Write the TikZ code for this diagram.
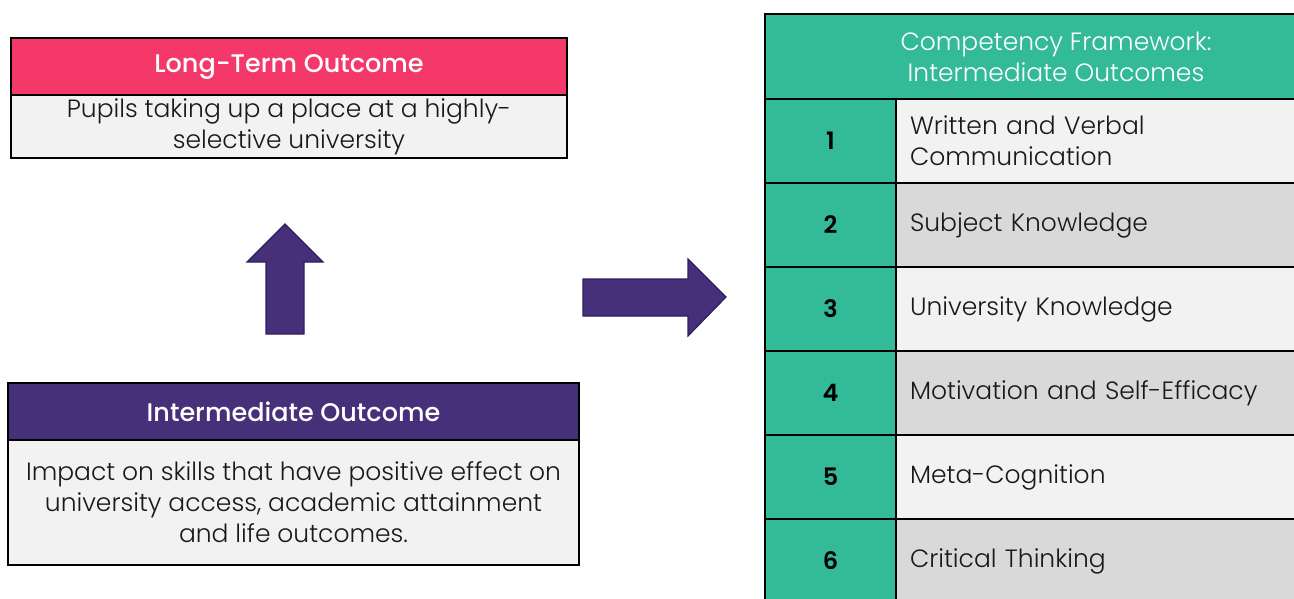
\documentclass[tikz,border=0pt]{standalone}
\usepackage{fontspec}
\setmainfont{Poppins}[UprightFont=* Light,BoldFont=* Medium]
\newfontfamily\semifont{Poppins}[UprightFont=* SemiBold]
\usetikzlibrary{positioning}
\definecolor{OutPink}{HTML}{F5386A}
\definecolor{OutPurple}{HTML}{46307A}
\definecolor{OutPurpleDk}{HTML}{2E1E5C}
\definecolor{OutTeal}{HTML}{33BA98}
\definecolor{OutPale}{HTML}{F2F2F2}
\definecolor{OutGrey}{HTML}{D9D9D9}

\begin{document}
\begin{tikzpicture}[x=1pt,y=-1pt,node distance=0pt]
  \tikzstyle{cell}=[draw=black,line width=2pt,inner sep=0pt,outer sep=0pt,
    align=center,font=\fontsize{25}{31}\selectfont]
  \tikzstyle{hdr}=[cell,text=white,font=\fontsize{25.5}{31}\selectfont\bfseries]
  \tikzstyle{txt}=[cell,fill=OutPale,text=black!90]
  \tikzstyle{num}=[cell,fill=OutTeal,minimum width=131pt,minimum height=84pt,
    font=\fontsize{24}{31}\selectfont\semifont]
  \tikzstyle{item}=[cell,minimum height=84pt,text width=423pt,inner xsep=14pt,
    align=left,text=black!90]
  \tikzstyle{blk}=[fill=OutPurple,draw=OutPurpleDk,line width=1.2pt,line join=miter]
  \useasboundingbox (0,0) rectangle (1294,598);
  \clip (0,0) rectangle (1294,598);

  % outcome boxes on the left
  \node[hdr,fill=OutPink,minimum width=556pt,minimum height=57pt,anchor=north west]
    (lth) at (11,38) {Long-Term Outcome};
  \node[txt,below=of lth,minimum width=556pt,minimum height=63pt]
    (ltb) {Pupils taking up a place at a highly-\\selective university};
  \node[hdr,fill=OutPurple,minimum width=571pt,minimum height=57pt,anchor=north west]
    (imh) at (8,383) {Intermediate Outcome};
  \node[txt,below=of imh,minimum width=571pt,minimum height=125pt]
    (imb) {Impact on skills that have positive effect on\\university access, academic attainment\\and life outcomes.};

  % block arrows
  \draw[blk] (266,334) -- (266,262) -- (247,262) -- (285,224) -- (323,262)
    -- (304,262) -- (304,334) -- cycle;
  \draw[blk] (583,279) -- (688,279) -- (688,259) -- (726,297) -- (688,336)
    -- (688,316) -- (583,316) -- cycle;

  % competency table
  \node[hdr,fill=OutTeal,font=\fontsize{25}{31}\selectfont,minimum width=582pt,
    minimum height=85pt,anchor=north west] (cfh) at (765,14)
    {Competency Framework:\\Intermediate Outcomes};
  \node[num,anchor=north west] (n1) at (cfh.south west) {1};
  \node[item,fill=OutPale,right=of n1] (r1) {Written and Verbal\\Communication};
  \node[num,below=of n1] (n2) {2};
  \node[item,fill=OutGrey,right=of n2] (r2) {Subject Knowledge};
  \node[num,below=of n2] (n3) {3};
  \node[item,fill=OutPale,right=of n3] (r3) {University Knowledge};
  \node[num,below=of n3] (n4) {4};
  \node[item,fill=OutGrey,right=of n4] (r4) {Motivation and Self-Efficacy};
  \node[num,below=of n4] (n5) {5};
  \node[item,fill=OutPale,right=of n5] (r5) {Meta-Cognition};
  \node[num,below=of n5] (n6) {6};
  \node[item,fill=OutGrey,right=of n6] (r6) {Critical Thinking};
\end{tikzpicture}
\end{document}
